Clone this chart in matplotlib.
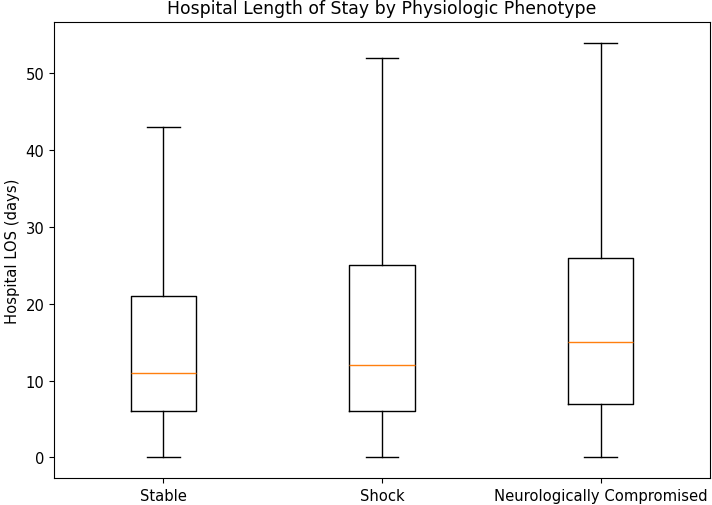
import matplotlib
matplotlib.use("Agg")
import matplotlib.pyplot as plt

# Box plot summary stats
groups = ["Stable", "Shock", "Neurologically Compromised"]
whislo = [0, 0, 0]
q1 = [6, 6, 7]
med = [11, 12, 15]
q3 = [21, 25, 26]
whishi = [43, 52, 54]

stats = []
for i, name in enumerate(groups):
    stats.append({"label": name, "whislo": whislo[i], "q1": q1[i], "med": med[i],
                  "q3": q3[i], "whishi": whishi[i], "fliers": []})

plt.rcParams["font.size"] = 10.6

fig = plt.figure(figsize=(7.12, 5.06), dpi=100)
ax = fig.add_axes([0.076, 0.053, 0.921, 0.902])
ax.bxp(stats, showfliers=False)
ax.set_title("Hospital Length of Stay by Physiologic Phenotype", fontsize=12.4)
ax.set_ylabel("Hospital LOS (days)")

fig.savefig("out.png", dpi=100)
